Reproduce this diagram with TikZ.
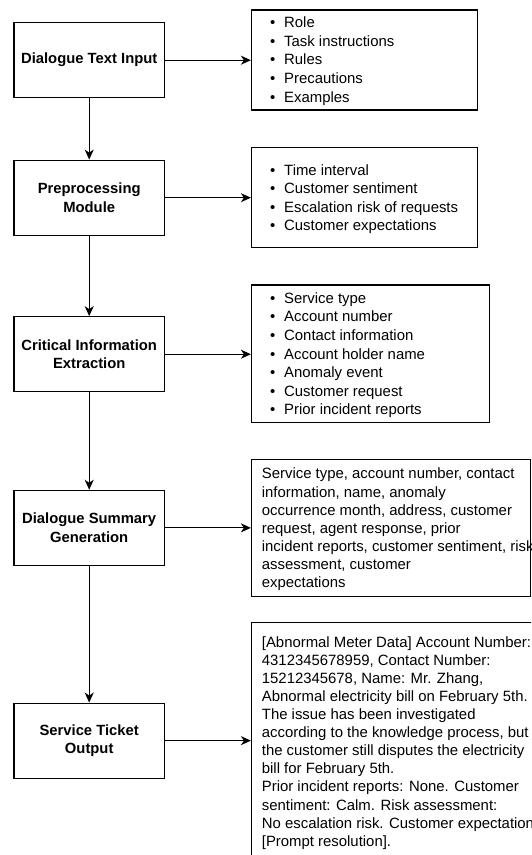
\documentclass[tikz,border=0pt]{standalone}
\usepackage{fontspec}
\setmainfont{Liberation Sans}
\usetikzlibrary{arrows.meta}
\newcommand\bul{\makebox[14pt][l]{\textbullet}}
\begin{document}
\begin{tikzpicture}[x=1pt,y=-1pt,
  stage/.style={draw=black, line width=1.2pt, minimum width=150.3pt, minimum height=75pt, inner sep=0pt, align=center, font=\fontsize{14.8}{18.3}\selectfont\bfseries},
  infobox/.style={draw=black, line width=1.2pt, inner sep=0pt},
  txt/.style={anchor=west, inner sep=0pt, align=left, font=\fontsize{14.9}{18.6}\selectfont},
  para/.style={anchor=north west, inner sep=0pt, align=left, font=\fontsize{14.9}{18.1}\selectfont},
  arr/.style={line width=1.2pt, -{Stealth[length=10pt,width=9pt,inset=3pt]}}]
\useasboundingbox (0,0) rectangle (531,855);
\clip (0,0) rectangle (531,855);
% left stages
\node[stage] (s1) at (89.2,60.2) {Dialogue Text Input};
\node[stage] (s2) at (89.2,197.7) {Preprocessing\\Module};
\node[stage] (s3) at (89.2,354.2) {Critical Information\\Extraction};
\node[stage] (s4) at (89.2,527.85) {Dialogue Summary\\Generation};
\node[stage] (s5) at (89.2,740.65) {Service Ticket\\Output};
% right boxes
\node[infobox, minimum width=226.2pt, minimum height=100pt] (r1) at (364.6,60) {};
\node[infobox, minimum width=226.2pt, minimum height=100pt] (r2) at (364.6,197.7) {};
\node[infobox, minimum width=237.8pt, minimum height=137.7pt] (r3) at (370.4,353.85) {};
\node[infobox, minimum width=278.8pt, minimum height=137.4pt] (r4) at (390.9,528) {};
\node[infobox, minimum width=318.5pt, minimum height=237.7pt] (r5) at (410.75,741.15) {};
% texts
\node[txt] (t1) at (270,61) {\bul Role\\\bul Task instructions\\\bul Rules\\\bul Precautions\\\bul Examples};
\node[txt] (t2) at (270,199.1) {\bul Time interval\\\bul Customer sentiment\\\bul Escalation risk of requests\\\bul Customer expectations};
\node[txt] (t3) at (270,355.3) {\bul Service type\\\bul Account number\\\bul Contact information\\\bul Account holder name\\\bul Anomaly event\\\bul Customer request\\\bul Prior incident reports};
\node[para] (t4) at (261.7,467.9) {Service type, account number, contact\\information, name, anomaly\\occurrence month, address, customer\\request, agent response, prior\\incident reports, customer sentiment, risk\\assessment, customer\\expectations};
\node[para] (t5) at (261.7,636.1) {{[}Abnormal Meter Data{]} Account Number:\\4312345678959, Contact Number:\\15212345678, Name: Mr. Zhang,\\Abnormal electricity bill on February 5th.\\The issue has been investigated\\according to the knowledge process, but\\the customer still disputes the electricity\\bill for February 5th.\\Prior incident reports: None. Customer\\sentiment: Calm. Risk assessment:\\No escalation risk. Customer expectations:\\{[}Prompt resolution{]}.};
% connectors
\draw[arr] (s1) -- (s2);
\draw[arr] (s2) -- (s3);
\draw[arr] (s3) -- (s4);
\draw[arr] (s4) -- (s5);
\draw[arr] (s1.east) -- (s1.east -| r1.west);
\draw[arr] (s2.east) -- (s2.east -| r2.west);
\draw[arr] (s3.east) -- (s3.east -| r3.west);
\draw[arr] (s4.east) -- (s4.east -| r4.west);
\draw[arr] (s5.east) -- (s5.east -| r5.west);
\end{tikzpicture}
\end{document}
